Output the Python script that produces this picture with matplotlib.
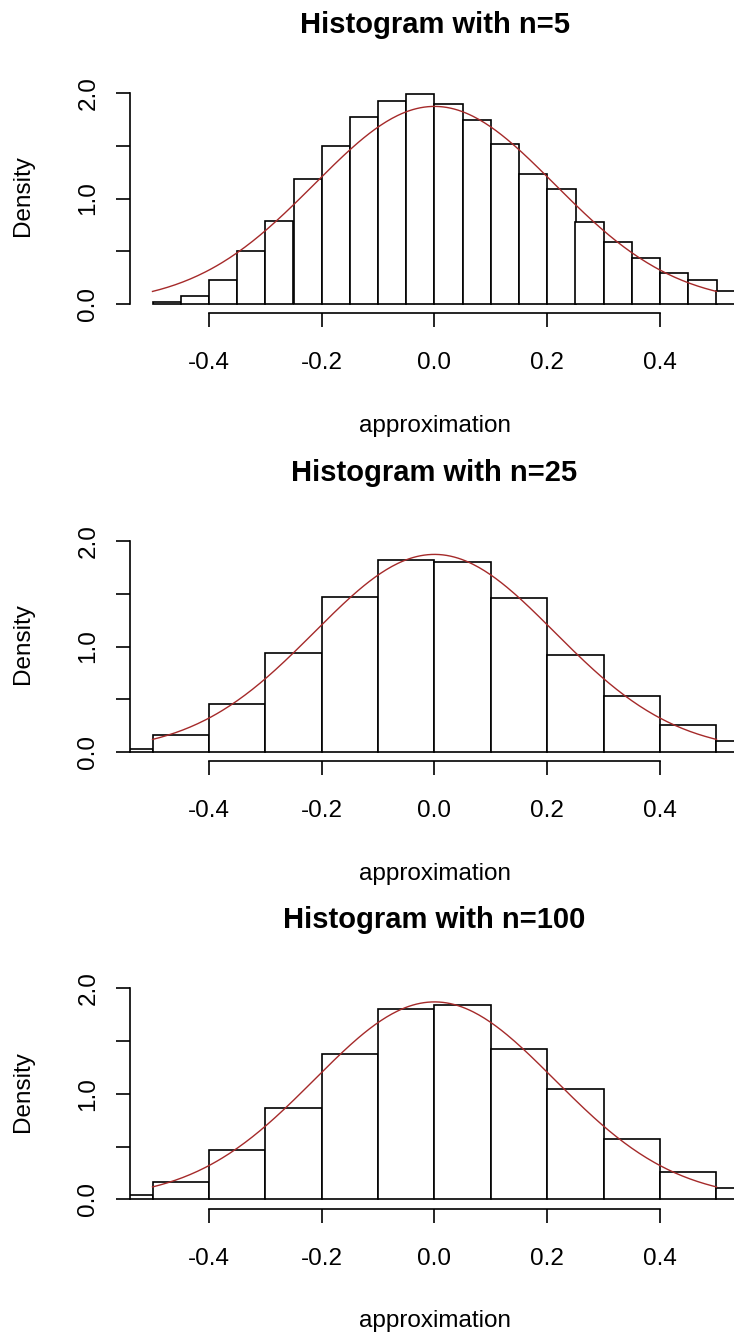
import matplotlib
matplotlib.use("Agg")
import matplotlib.pyplot as plt
import numpy as np

# histogram densities
n5_breaks = np.round(np.arange(-0.5, 0.551, 0.05), 2)
n5_density = [0.016, 0.076, 0.227, 0.50, 0.787, 1.185, 1.50, 1.776, 1.927, 1.99,
              1.90, 1.744, 1.52, 1.229, 1.093, 0.774, 0.591, 0.439, 0.291, 0.227, 0.123]

n25_breaks = np.round(np.arange(-0.6, 0.601, 0.1), 2)
n25_density = [0.028, 0.164, 0.455, 0.938, 1.472, 1.82,
               1.804, 1.457, 0.923, 0.531, 0.256, 0.107]

n100_breaks = np.round(np.arange(-0.6, 0.601, 0.1), 2)
n100_density = [0.044, 0.168, 0.472, 0.867, 1.383, 1.807,
                1.842, 1.43, 1.05, 0.576, 0.259, 0.108]

titles = ["Histogram with n=5", "Histogram with n=25", "Histogram with n=100"]

# fitted normal curve drawn over each histogram
curve_mean = 0.0
curve_sd = 0.213

W, H = 734, 1335
plt.rcParams["font.family"] = ["Liberation Sans", "DejaVu Sans"]


def fx(px):
    return px / W


def fy(py):
    return 1 - py / H


fig = plt.figure(figsize=(W / 100, H / 100), dpi=100)

panels = [(n5_breaks, n5_density), (n25_breaks, n25_density), (n100_breaks, n100_density)]
offsets = [0, 448, 895.5]

x0_px, ppu_x = 434.5, 564.0
y0_px, ppu_y = 304.0, 105.5
xlim = (-0.54, 0.54)
ylim = (-0.09, 2.09)

for (breaks, dens), title, off in zip(panels, titles, offsets):
    left = x0_px + xlim[0] * ppu_x
    right = x0_px + xlim[1] * ppu_x
    bottom = off + y0_px - ylim[0] * ppu_y
    top = off + y0_px - ylim[1] * ppu_y
    ax = fig.add_axes([fx(left), fy(bottom), (right - left) / W, (bottom - top) / H])

    widths = np.diff(breaks)
    ax.bar(breaks[:-1], dens, width=widths, align="edge", facecolor="white",
           edgecolor="black", linewidth=1.2)

    xs = np.linspace(-0.5, 0.5, 300)
    ys = np.exp(-0.5 * ((xs - curve_mean) / curve_sd) ** 2) / (curve_sd * np.sqrt(2 * np.pi))
    ax.plot(xs, ys, color="#A52A2A", linewidth=1.0)

    ax.set_xlim(*xlim)
    ax.set_ylim(*ylim)
    for s in ["top", "right"]:
        ax.spines[s].set_visible(False)
    ax.spines["left"].set_bounds(0, 2)
    ax.spines["bottom"].set_bounds(-0.4, 0.4)
    for s in ["left", "bottom"]:
        ax.spines[s].set_linewidth(1.2)

    ax.set_xticks([-0.4, -0.2, 0.0, 0.2, 0.4])
    ax.set_xticklabels(["-0.4", "-0.2", "0.0", "0.2", "0.4"])
    ax.set_yticks([0, 0.5, 1.0, 1.5, 2.0])
    ax.set_yticklabels(["0.0", "", "1.0", "", "2.0"], rotation=90, va="center")
    ax.tick_params(axis="both", direction="out", length=10, width=1.2, labelsize=17.5)
    ax.tick_params(axis="x", pad=18)
    ax.tick_params(axis="y", pad=12)

    fig.text(fx(434.5), fy(off + 25), title, ha="center", va="center",
             fontsize=21, fontweight="bold")
    fig.text(fx(434.5), fy(off + 426), "approximation", ha="center", va="center",
             fontsize=17.5)
    fig.text(fx(23), fy(off + 196), "Density", ha="center", va="center",
             rotation=90, fontsize=17.5)

fig.savefig("out.png", dpi=100)
plt.close(fig)
